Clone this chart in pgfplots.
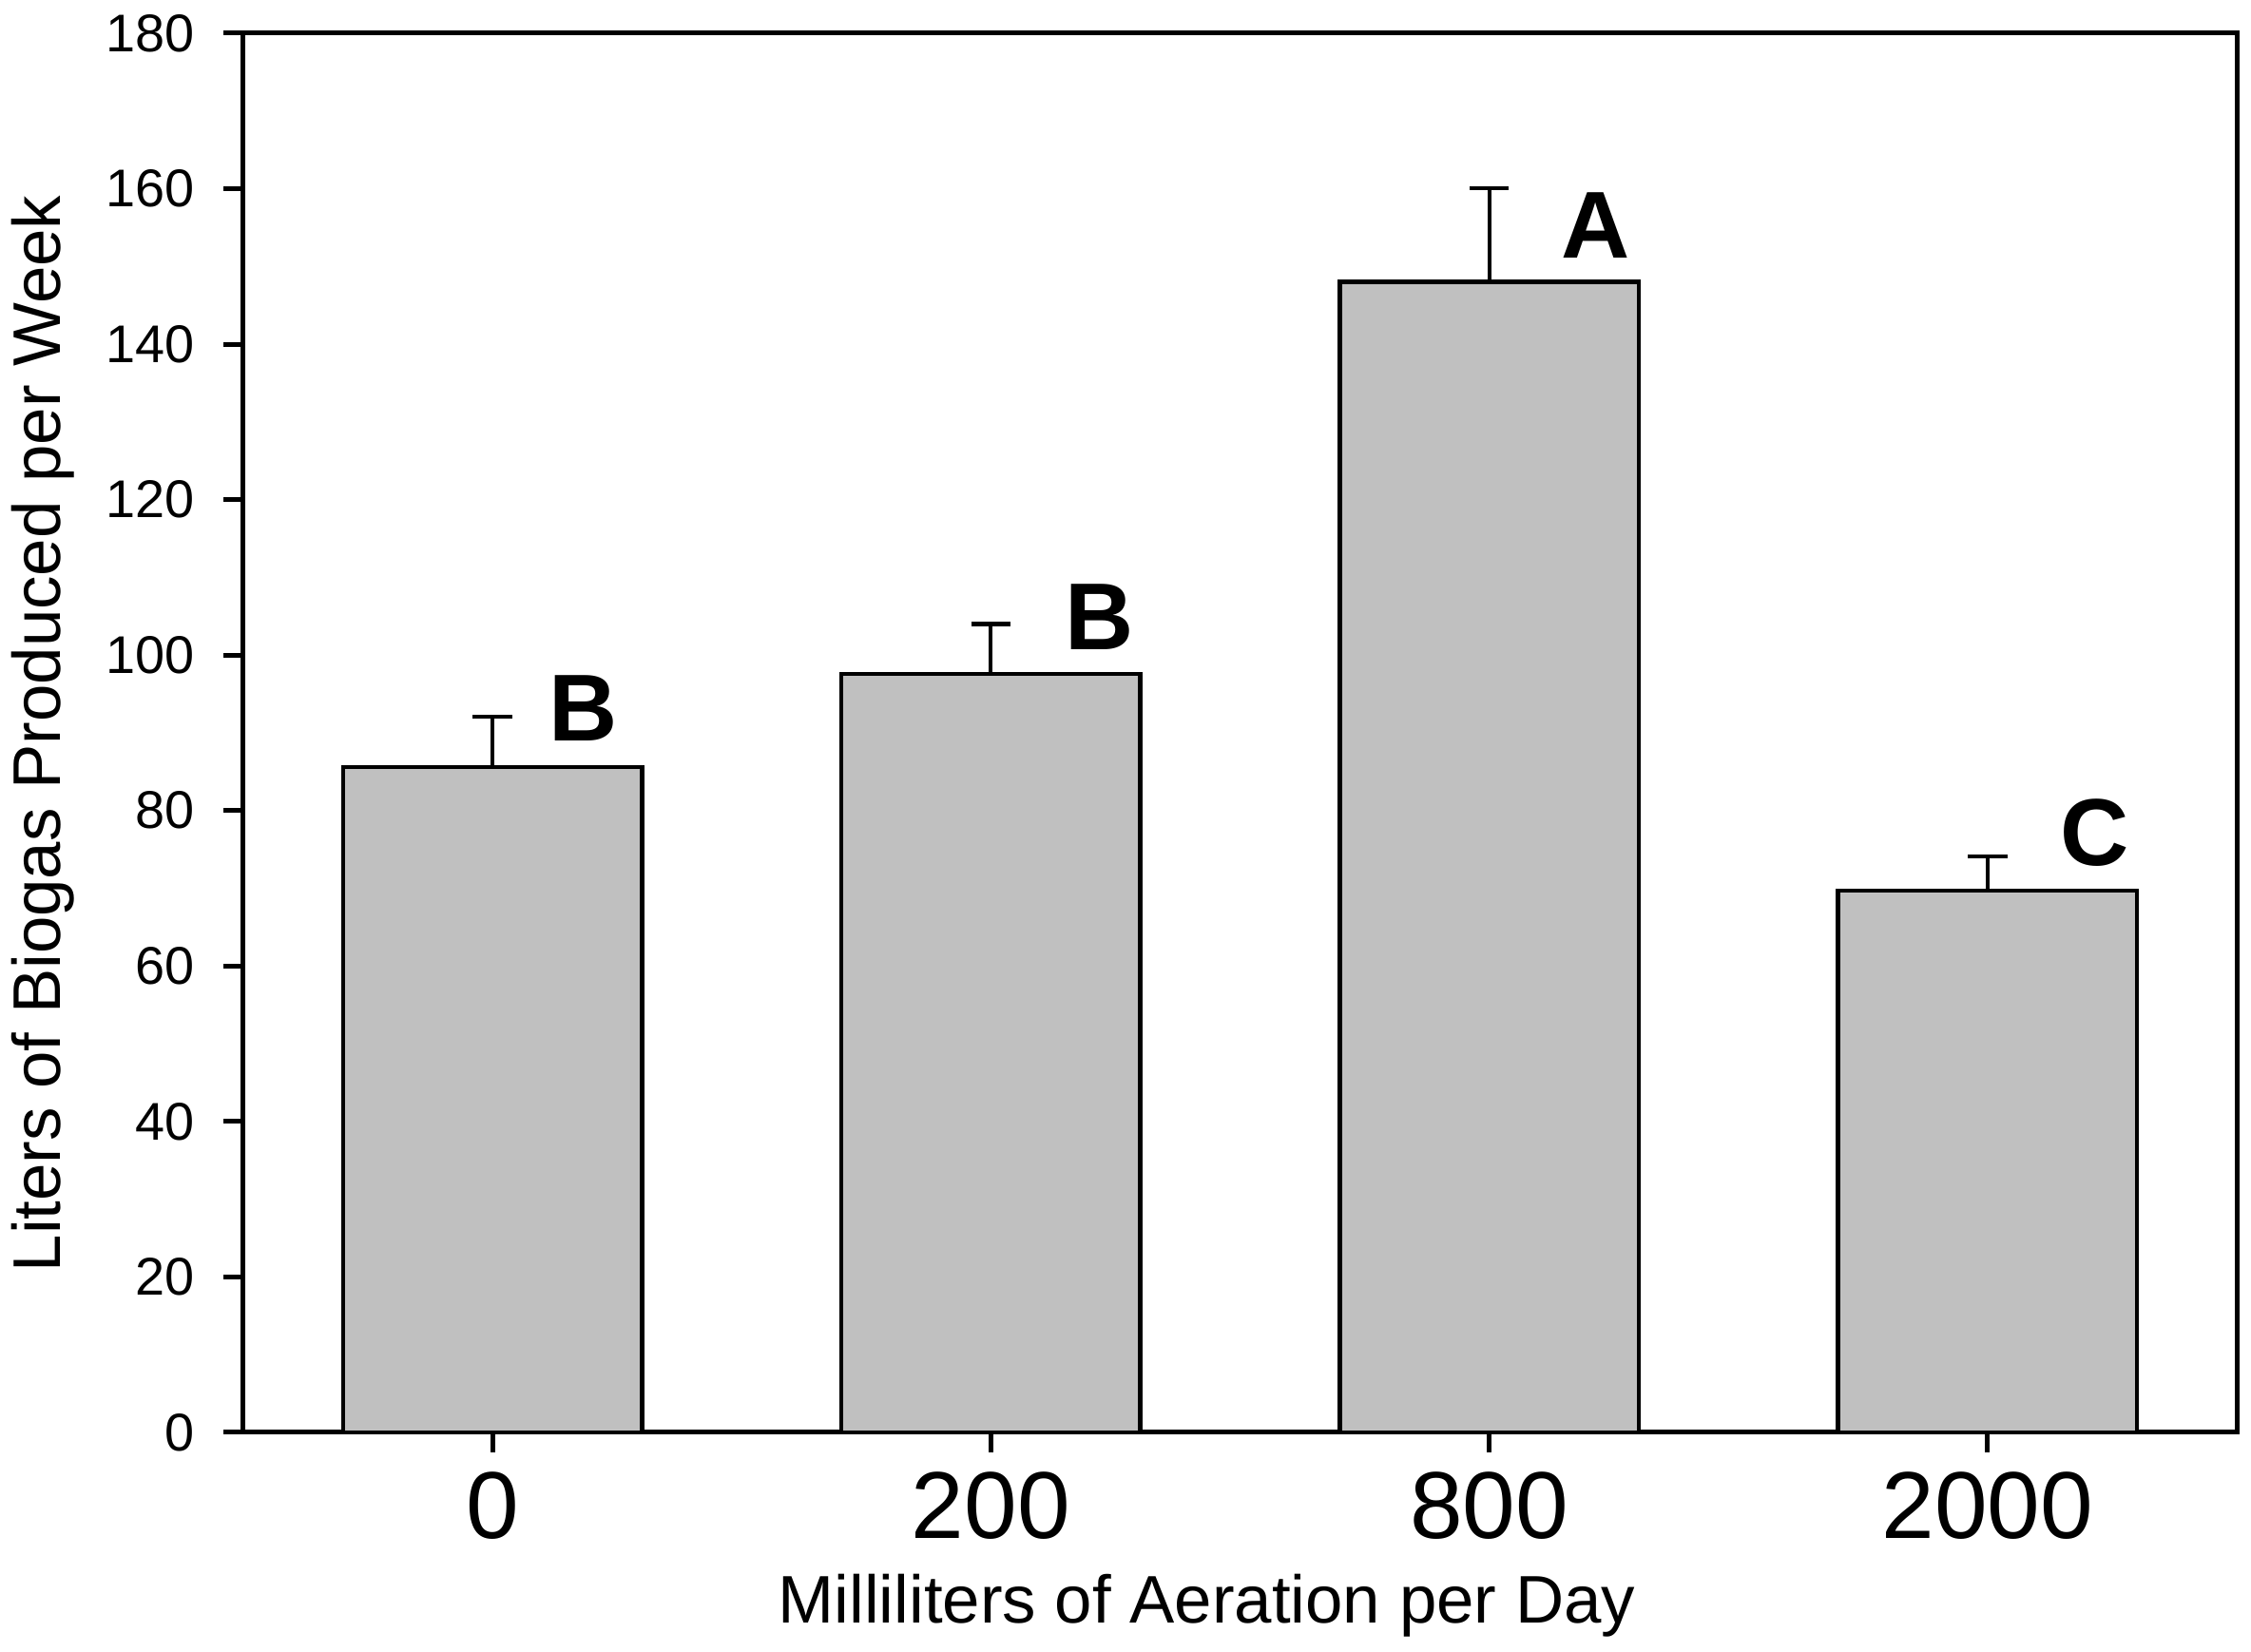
\documentclass[border=0pt]{standalone}
\usepackage{fontspec}
\setmainfont{Liberation Sans}
\usepackage{pgfplots}
\pgfplotsset{compat=1.18}
\definecolor{bargray}{RGB}{192,192,192}
\begin{document}
\begin{tikzpicture}
\begin{axis}[
  name=ax,
  scale only axis, width=503.28pt, height=353.28pt,
  xmin=-0.5, xmax=3.5, ymin=0, ymax=180,
  xtick={0,1,2,3}, xticklabels={0,200,800,2000},
  ytick={0,20,...,180},
  minor tick num=0,
  xtick pos=left, ytick pos=left,
  tick align=outside, major tick length=5pt,
  axis line style={line width=1.2pt},
  every tick/.style={black, line width=1.2pt},
  /pgf/number format/assume math mode=true,
  yticklabel style={font=\fontsize{13.4}{14}\selectfont, anchor=east, inner sep=0pt, xshift=-7.2pt},
  xticklabel style={font=\fontsize{24}{26}\selectfont, anchor=north, inner sep=0pt, yshift=-4.84pt},
  xlabel={Milliliters of Aeration per Day},
  ylabel={Liters of Biogas Produced per Week},
  xlabel style={font=\fontsize{17}{19}\selectfont, at={(axis description cs:0.4833,-0.1359)}, anchor=base, inner sep=0pt},
  ylabel style={font=\fontsize{17}{19}\selectfont, at={(axis description cs:-0.0920,0.4993)}, anchor=base, inner sep=0pt},
]
\addplot[ybar, bar width=0.6, fill=bargray, draw=black, line width=1.1pt,
  error bars/.cd, y dir=plus, y explicit,
  error mark=|,
  error bar style={line width=1pt, black},
  error mark options={line width=1pt, black, mark size=5pt}]
  coordinates {(0,85.6) +- (0,6.5) (1,97.6) +- (0,6.4) (2,148.0) +- (0,12.1) (3,69.7) +- (0,4.4)};
\node[anchor=base west, inner sep=0pt, font=\fontsize{24}{26}\selectfont\bfseries] at (axis cs:0.112,88.9) {B};
\node[anchor=base west, inner sep=0pt, font=\fontsize{24}{26}\selectfont\bfseries] at (axis cs:1.147,100.7) {B};
\node[anchor=base west, inner sep=0pt, font=\fontsize{24}{26}\selectfont\bfseries] at (axis cs:2.143,151.1) {A};
\node[anchor=base west, inner sep=0pt, font=\fontsize{24}{26}\selectfont\bfseries] at (axis cs:3.145,72.9) {C};
\end{axis}
\pgfresetboundingbox
\path[use as bounding box] ([shift={(-61.44pt,-55.44pt)}]ax.south west) rectangle ([shift={(506.88pt,361.68pt)}]ax.south west);
\end{tikzpicture}
\end{document}
